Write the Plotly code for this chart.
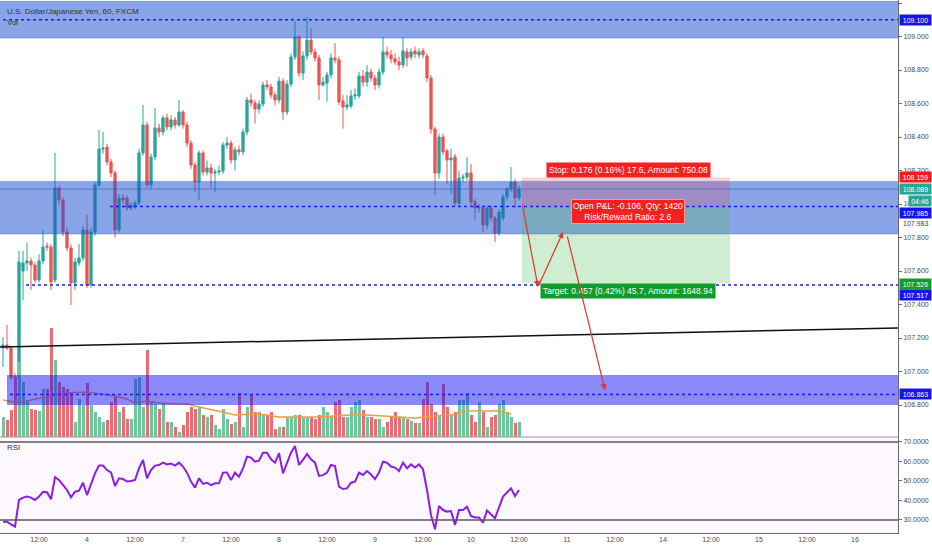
import plotly.graph_objects as go

# ---------------- data ----------------
bar_index = list(range(-9, 121))  # hourly bars; 0 = 12:00 on the 3rd

opens = [107.140, 107.158, 107.140, 106.967, 106.961, 107.600, 107.648, 107.660, 107.636,
         107.546, 107.660, 107.749, 107.743, 107.546, 108.096, 108.024, 107.833, 107.737, 107.529,
         107.648, 107.678, 107.845, 107.517, 107.833, 108.114, 108.328, 108.340, 108.251, 108.185,
         107.845, 108.036, 108.036, 107.976, 107.982, 108.006, 108.305, 108.472, 108.114, 108.281,
         108.454, 108.430, 108.514, 108.460, 108.502, 108.472, 108.549, 108.472, 108.364, 108.233,
         108.131, 108.305, 108.191, 108.215, 108.185, 108.191, 108.197, 108.352, 108.364, 108.263,
         108.323, 108.311, 108.430, 108.621, 108.603, 108.567, 108.597, 108.711, 108.699, 108.651,
         108.621, 108.734, 108.549, 108.716, 108.878, 108.997, 108.782, 108.884, 108.979, 108.908,
         108.872, 108.711, 108.722, 108.770, 108.872, 108.860, 108.615, 108.579, 108.585, 108.645,
         108.645, 108.764, 108.728, 108.788, 108.752, 108.711, 108.788, 108.908, 108.890, 108.866,
         108.848, 108.830, 108.908, 108.878, 108.914, 108.890, 108.914, 108.884, 108.752, 108.448,
         108.185, 108.400, 108.317, 108.263, 108.281, 108.006, 108.155, 108.161, 108.185, 108.012,
         107.976, 107.976, 107.875, 107.976, 107.917, 107.827, 107.917, 108.042, 108.090, 108.131,
         108.036]
closes = [107.158, 107.140, 106.967, 106.961, 107.654, 107.648, 107.660, 107.636, 107.546,
          107.660, 107.743, 107.743, 107.535, 108.096, 108.024, 107.833, 107.737, 107.529, 107.654,
          107.678, 107.845, 107.517, 107.833, 108.114, 108.328, 108.334, 108.251, 108.185, 107.845,
          108.036, 108.024, 107.976, 107.994, 108.006, 108.305, 108.472, 108.114, 108.281, 108.454,
          108.430, 108.514, 108.460, 108.502, 108.472, 108.549, 108.472, 108.364, 108.233, 108.131,
          108.305, 108.191, 108.215, 108.185, 108.191, 108.197, 108.352, 108.364, 108.263, 108.323,
          108.311, 108.430, 108.621, 108.603, 108.567, 108.597, 108.711, 108.699, 108.651, 108.621,
          108.734, 108.549, 108.716, 108.878, 108.997, 108.782, 108.884, 108.979, 108.908, 108.872,
          108.711, 108.728, 108.770, 108.872, 108.860, 108.609, 108.579, 108.591, 108.645, 108.651,
          108.764, 108.728, 108.788, 108.752, 108.711, 108.788, 108.908, 108.890, 108.866, 108.848,
          108.830, 108.914, 108.872, 108.908, 108.896, 108.908, 108.890, 108.752, 108.448, 108.185,
          108.400, 108.311, 108.263, 108.275, 108.006, 108.155, 108.161, 108.185, 108.012, 107.976,
          107.982, 107.875, 107.976, 107.917, 107.827, 107.952, 108.042, 108.090, 108.131, 108.036,
          108.089]
highs = [107.206, 107.278, 107.150, 106.990, 107.720, 107.720, 107.770, 107.680, 107.650,
         107.700, 107.845, 107.770, 107.760, 108.305, 108.110, 108.040, 107.860, 107.760, 107.680,
         107.760, 107.870, 107.935, 107.860, 108.130, 108.442, 108.430, 108.360, 108.270, 108.200,
         108.060, 108.060, 108.050, 108.010, 108.020, 108.330, 108.591, 108.490, 108.300, 108.573,
         108.480, 108.530, 108.540, 108.530, 108.520, 108.621, 108.560, 108.490, 108.380, 108.250,
         108.320, 108.320, 108.260, 108.240, 108.210, 108.230, 108.370, 108.400, 108.380, 108.340,
         108.350, 108.450, 108.640, 108.660, 108.620, 108.620, 108.730, 108.740, 108.720, 108.670,
         108.760, 108.750, 108.740, 108.900, 109.090, 109.010, 108.910, 109.117, 109.050, 108.930,
         108.890, 108.760, 108.790, 108.900, 108.961, 108.880, 108.650, 108.650, 108.680, 108.690,
         108.790, 108.800, 108.830, 108.810, 108.770, 108.810, 108.997, 108.940, 108.920, 108.900,
         108.880, 108.997, 108.930, 108.930, 108.940, 108.930, 108.930, 108.900, 108.770, 108.460,
         108.420, 108.420, 108.330, 108.330, 108.300, 108.200, 108.180, 108.280, 108.240, 108.030,
         108.000, 107.990, 107.990, 107.990, 107.930, 107.970, 108.060, 108.100, 108.221, 108.150,
         108.110]
lows = [107.027, 107.128, 106.950, 106.940, 106.950, 107.427, 107.600, 107.487, 107.530,
        107.530, 107.640, 107.720, 107.487, 107.530, 107.990, 107.810, 107.720, 107.397, 107.487,
        107.630, 107.660, 107.500, 107.500, 107.810, 108.100, 108.300, 108.230, 108.160, 107.800,
        107.830, 108.000, 107.960, 107.960, 107.970, 107.990, 108.290, 108.100, 108.090, 108.260,
        108.400, 108.410, 108.440, 108.440, 108.450, 108.460, 108.450, 108.340, 108.210, 108.072,
        108.024, 108.170, 108.170, 108.096, 108.072, 108.170, 108.180, 108.330, 108.240, 108.200,
        108.290, 108.290, 108.410, 108.580, 108.480, 108.540, 108.580, 108.680, 108.630, 108.590,
        108.600, 108.500, 108.530, 108.700, 108.860, 108.760, 108.740, 108.860, 108.890, 108.850,
        108.620, 108.700, 108.610, 108.750, 108.840, 108.590, 108.450, 108.560, 108.570, 108.620,
        108.630, 108.700, 108.700, 108.730, 108.680, 108.690, 108.770, 108.870, 108.840, 108.830,
        108.800, 108.810, 108.820, 108.860, 108.870, 108.870, 108.870, 108.730, 108.420, 108.054,
        108.150, 108.290, 108.120, 108.060, 107.990, 107.990, 108.130, 108.140, 107.990, 107.900,
        107.950, 107.830, 107.850, 107.890, 107.773, 107.810, 107.900, 108.020, 108.070, 107.980,
        108.020]
volume = [20, 17, 27, 60, 75, 55, 35, 28, 27,
          26, 48, 48, 109, 77, 55, 50, 48, 45, 15,
          38, 32, 54, 32, 25, 20, 15, 17, 35, 40,
          25, 30, 18, 18, 58, 60, 30, 87, 35, 33,
          28, 33, 15, 15, 10, 5, 12, 25, 30, 28,
          30, 22, 20, 22, 12, 8, 28, 18, 13, 15,
          44, 10, 30, 42, 25, 25, 22, 22, 25, 8,
          10, 10, 20, 20, 22, 22, 20, 20, 20, 18,
          22, 30, 25, 20, 35, 37, 20, 20, 30, 35,
          37, 27, 20, 20, 18, 18, 10, 15, 20, 25,
          20, 20, 18, 16, 14, 14, 38, 55, 33, 25,
          22, 53, 30, 22, 25, 37, 37, 44, 22, 15,
          35, 25, 10, 20, 22, 33, 37, 25, 20, 14,
          15]
vol_ma_index = [-9, -5, -1, 2, 7, 12, 15, 19, 22, 24, 27, 30, 34, 37, 40, 44, 47, 49, 54, 57,
                60, 65, 70, 74, 78, 82, 86, 90, 94, 99, 103, 107, 111, 115, 118]
vol_ma = [37, 34, 38, 40, 44, 45, 43, 41, 38, 34, 36, 34, 33, 33, 30, 27, 24, 22, 23, 22,
          20, 20, 20, 21, 22, 22, 21, 20, 19, 21, 22, 26, 26, 26, 23]
rsi = [29.1, 29.1, 27.8, 26.6, 40.3, 41.5, 42.0, 41.5, 40.3,
       42.0, 44.4, 44.2, 40.6, 51.9, 50.5, 48.0, 45.4, 41.6, 44.5,
       45.0, 49.1, 42.8, 48.8, 53.9, 57.9, 57.9, 55.6, 54.4, 47.4,
       51.4, 51.0, 49.7, 50.0, 50.5, 56.5, 60.8, 51.4, 55.6, 57.9,
       58.2, 59.4, 58.5, 59.0, 57.9, 59.4, 57.4, 54.3, 49.7, 46.6,
       51.4, 48.5, 49.1, 47.9, 48.8, 48.8, 54.3, 54.4, 50.5, 54.3,
       52.2, 56.5, 62.5, 62.0, 59.9, 60.4, 64.5, 64.5, 61.1, 59.4,
       64.2, 53.9, 59.4, 64.5, 67.9, 58.2, 60.8, 63.8, 61.1, 59.4,
       52.6, 53.0, 54.3, 58.2, 57.7, 47.1, 45.9, 46.2, 49.1, 49.6,
       54.3, 53.1, 55.1, 53.4, 51.0, 54.3, 59.9, 59.4, 57.4, 56.9,
       55.1, 59.4, 56.5, 58.5, 56.9, 58.5, 56.0, 45.4, 32.6, 25.2,
       37.2, 35.1, 34.3, 34.6, 27.4, 35.1, 35.1, 36.8, 32.1, 31.3,
       31.3, 28.6, 34.8, 33.1, 30.9, 36.5, 42.0, 44.1, 46.2, 42.3,
       45.4]

tick_index = list(range(0, 205, 12))
tick_text = ["12:00", "4", "12:00", "7", "12:00", "8", "12:00", "9", "12:00", "10",
             "12:00", "11", "12:00", "14", "12:00", "15", "12:00", "16"]

# levels / drawings
top_zone = (108.991, 109.21)
mid_zone = (107.821, 108.135)
low_zone = (106.800, 106.979)
level_top = 109.100
entry = 107.985
stop = 108.159
target = 107.526
level_mid = 107.517
level_low = 106.863
last_price = 108.089
pos_x = (120.75, 172.75)

UP, DOWN = "#26a69a", "#ef5350"
VUP, VDOWN = "#6cc79b", "#ef6b74"
BLUE_LINE = "#1c1ce6"
FONT = "Liberation Sans, Arial, sans-serif"

X_RANGE = [-9.75, 214.75]
P_RANGE = [106.609, 109.218]
R_RANGE = [23.33, 72.56]
SPLIT = 1 - 437 / 533

fig = go.Figure()

vcolors = [VUP if c >= o else VDOWN for o, c in zip(opens, closes)]
fig.add_trace(go.Bar(x=bar_index, y=volume, marker_color=vcolors, marker_line_width=0,
                     width=0.75, yaxis="y3", xaxis="x", hoverinfo="skip"))
fig.add_trace(go.Scatter(x=vol_ma_index, y=vol_ma, mode="lines", yaxis="y3", xaxis="x",
                         line=dict(color="#f59a45", width=1.5), hoverinfo="skip"))
fig.add_trace(go.Candlestick(x=bar_index, open=opens, high=highs, low=lows, close=closes,
                             increasing=dict(line=dict(color=UP, width=1), fillcolor=UP),
                             decreasing=dict(line=dict(color=DOWN, width=1), fillcolor=DOWN),
                             whiskerwidth=0, xaxis="x", yaxis="y"))
fig.add_trace(go.Scatter(x=bar_index, y=rsi, mode="lines", xaxis="x", yaxis="y2",
                         line=dict(color="#8a1de6", width=2), hoverinfo="skip"))

shapes = []
# RSI pane background and bands
shapes.append(dict(type="rect", xref="paper", yref="y2", x0=0, x1=1, y0=R_RANGE[0], y1=R_RANGE[1],
                   fillcolor="#fdf8fd", line_width=0, layer="below"))
for lv in (70, 30):
    shapes.append(dict(type="line", xref="paper", yref="y2", x0=0, x1=1, y0=lv, y1=lv,
                       line=dict(color="#5a5a5a", width=1.6), layer="above"))
shapes.append(dict(type="line", xref="paper", yref="paper", x0=0, x1=1, y0=SPLIT, y1=SPLIT,
                   line=dict(color="#9a9a9a", width=1), layer="above"))

zone_fill = "rgba(30,80,210,0.52)"
shapes.append(dict(type="rect", xref="x", yref="y", x0=-12, x1=220, y0=top_zone[0], y1=top_zone[1],
                   fillcolor=zone_fill, line=dict(color="rgba(30,80,210,0.35)", width=1), layer="above"))
shapes.append(dict(type="rect", xref="x", yref="y", x0=-12, x1=220, y0=mid_zone[0], y1=mid_zone[1],
                   fillcolor=zone_fill, line=dict(color="rgba(30,80,210,0.35)", width=1), layer="above"))
shapes.append(dict(type="rect", xref="x", yref="y", x0=-8, x1=220, y0=low_zone[0], y1=low_zone[1],
                   fillcolor="rgba(20,20,245,0.5)", line_width=0, layer="above"))
# position tool
shapes.append(dict(type="rect", xref="x", yref="y", x0=pos_x[0], x1=pos_x[1], y0=entry, y1=stop,
                   fillcolor="rgba(242,54,69,0.22)", line_width=0, layer="above"))
shapes.append(dict(type="rect", xref="x", yref="y", x0=pos_x[0], x1=pos_x[1], y0=target, y1=entry,
                   fillcolor="rgba(76,190,80,0.27)", line_width=0, layer="above"))
# current price line
shapes.append(dict(type="line", xref="x", yref="y", x0=-12, x1=220, y0=last_price, y1=last_price,
                   line=dict(color="rgba(40,90,170,0.55)", width=1), layer="above"))
# dotted levels
for lv, x0 in ((level_top, -12), (entry, 17.75), (level_mid, -3.25), (level_low, -7.25)):
    shapes.append(dict(type="line", xref="x", yref="y", x0=x0, x1=220, y0=lv, y1=lv,
                       line=dict(color=BLUE_LINE, width=1.5, dash="dot"), layer="above"))
# trend line
shapes.append(dict(type="line", xref="x", yref="y", x0=-9.75, x1=214.75, y0=107.146, y1=107.260,
                   line=dict(color="#111111", width=1.5), layer="above"))

ann = []
def txt(x, y, s, size=8, color="#333333", xref="paper", yref="paper", **kw):
    ann.append(dict(x=x, y=y, xref=xref, yref=yref, text=s, showarrow=False,
                    font=dict(family=FONT, size=size, color=color), **kw))

txt(5 / 898, 1 - 11 / 533, "U.S. Dollar/Japanese Yen, 60, FXCM", xanchor="left", yanchor="middle")
txt(5 / 898, 1 - 23 / 533, "Vol", xanchor="left", yanchor="middle")
txt(5 / 898, 1 - 447 / 533, "RSI", xanchor="left", yanchor="middle")

def price_tag(val, color, text=None, yshift=0, x=1 + 1 / 898, width=31):
    ann.append(dict(x=x, y=val, xref="paper", yref="y", text=text or f"{val:.3f}",
                    showarrow=False, xanchor="left", yanchor="middle", yshift=yshift,
                    bgcolor=color, width=width, height=10, borderpad=0, align="center",
                    font=dict(family=FONT, size=7, color="white")))

price_tag(level_top, "#1414f0")
price_tag(stop, "#f21c1c")
price_tag(last_price, "#26a69a")
price_tag(last_price, "#26a69a", text="04:46", yshift=-12, x=1 + 10 / 898, width=22)
price_tag(entry, "#1414f0", yshift=-6)
ann.append(dict(x=1 + 3 / 898, y=107.983, xref="paper", yref="y", text="107.983", showarrow=False,
                xanchor="left", yanchor="middle", yshift=-17,
                font=dict(family=FONT, size=7, color="#444444")))
price_tag(target, "#0e9d2c", yshift=-1)
price_tag(level_mid, "#1414f0", yshift=-10)
price_tag(level_low, "#1414f0")

# position tool labels
box_font = dict(family=FONT, size=8.5, color="white")
ann.append(dict(x=147.25, y=stop, xref="x", yref="y", yshift=7, showarrow=False,
                text="Stop: 0.176 (0.16%) 17.6, Amount: 750.08", bgcolor="#f52020",
                borderpad=2, font=box_font))
ann.append(dict(x=147.25, y=entry, xref="x", yref="y", yshift=-5, showarrow=False,
                text="Open P&L: -0.106, Qty: 1420<br>Risk/Reward Ratio: 2.6", bgcolor="#f52020",
                bordercolor="#f79a9a", borderwidth=1, borderpad=1, font=box_font))
ann.append(dict(x=147.25, y=target, xref="x", yref="y", yshift=-7.5, showarrow=False,
                text="Target: 0.457 (0.42%) 45.7, Amount: 1648.94", bgcolor="#0e9d2c",
                borderpad=2, font=box_font))

# projected path arrows
for (x0, y0, x1, y1) in ((120.75, 108.006, 124.75, 107.505),
                         (124.75, 107.505, 131.0, 107.833),
                         (132.0, 107.815, 141.5, 106.890)):
    ann.append(dict(x=x1, y=y1, ax=x0, ay=y0, xref="x", yref="y", axref="x", ayref="y",
                    text="", showarrow=True, arrowhead=2, arrowsize=1, arrowwidth=1.2,
                    arrowcolor="#e23434", standoff=0))

fig.update_layout(
    width=932, height=550, margin=dict(l=0, r=34, t=0, b=17),
    paper_bgcolor="white", plot_bgcolor="white", showlegend=False,
    font=dict(family=FONT, size=7, color="#4a4a4a"),
    shapes=shapes, annotations=ann, bargap=0, boxgap=0.2,
    xaxis=dict(range=X_RANGE, domain=[0, 1], anchor="y2", tickvals=tick_index, ticktext=tick_text,
               ticks="", showgrid=False, zeroline=False, showline=True, linecolor="#6a6a6a",
               linewidth=1, tickfont=dict(size=7, color="#4a4a4a"), rangeslider=dict(visible=False)),
    yaxis=dict(domain=[SPLIT, 1], range=P_RANGE, side="right", anchor="x",
               tickvals=[106.8 + 0.2 * k for k in range(13)], tickformat=".3f",
               ticks="outside", ticklen=3, tickcolor="#6a6a6a", showgrid=False, zeroline=False,
               showline=True, linecolor="#6a6a6a", tickfont=dict(size=7, color="#4a4a4a")),
    yaxis2=dict(domain=[0, SPLIT], range=R_RANGE, side="right", anchor="x",
                tickvals=[30, 40, 50, 60, 70], tickformat=".4f",
                ticks="outside", ticklen=3, tickcolor="#6a6a6a", showgrid=False, zeroline=False,
                showline=True, linecolor="#6a6a6a", tickfont=dict(size=7, color="#4a4a4a")),
    yaxis3=dict(overlaying="y", range=[0, 437], visible=False, showgrid=False, zeroline=False),
)

fig.write_html("out.html", config={"displayModeBar": False},
               post_script="document.body.style.margin='0';document.body.style.overflow='hidden';")
